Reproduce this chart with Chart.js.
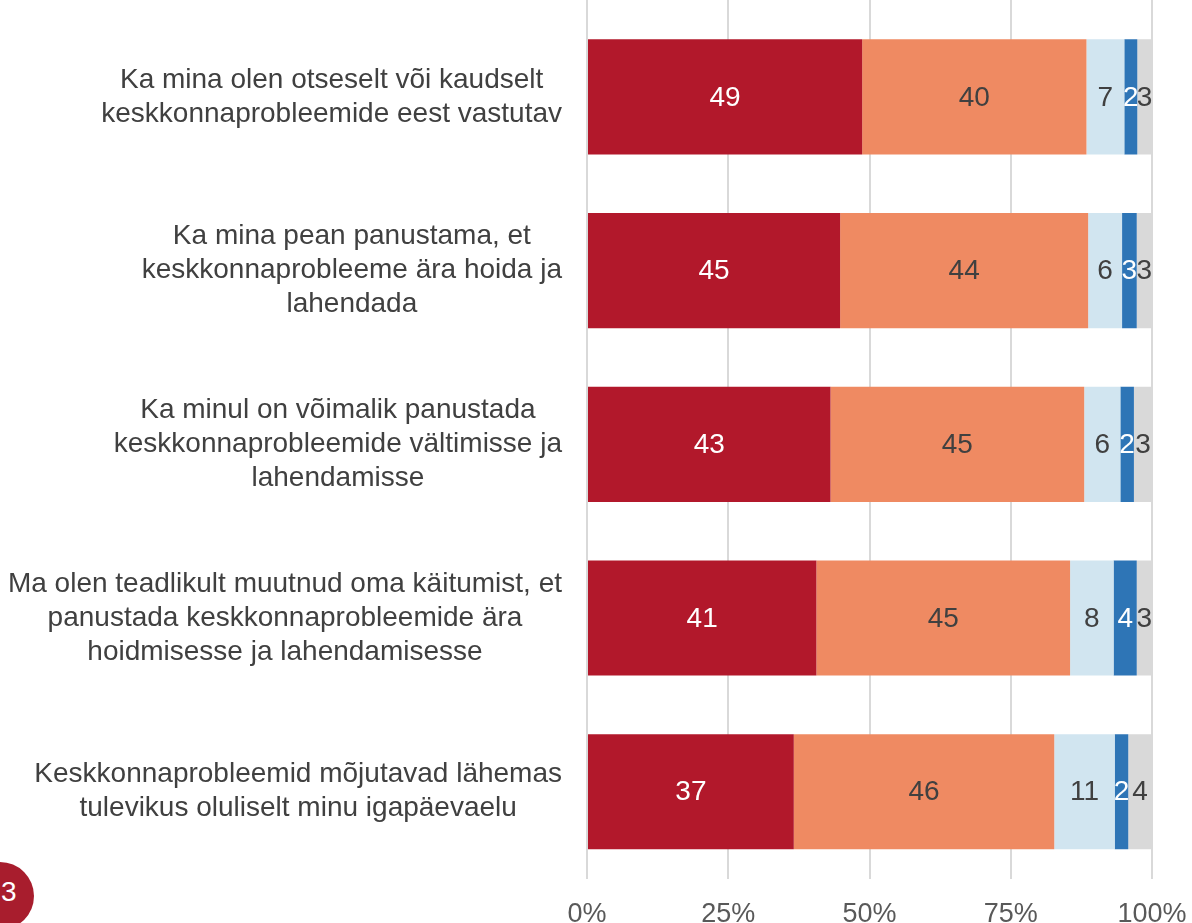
<!DOCTYPE html>
<html lang="et">
<head>
<meta charset="utf-8">
<title>Keskkonnaprobleemid</title>
<script src="https://cdn.jsdelivr.net/npm/chart.js@4/dist/chart.umd.min.js"></script>
<style>
  html, body { margin: 0; padding: 0; background: #fff; overflow: hidden; }
  #wrap { position: relative; width: 1192px; height: 951px; }
  #badge {
    position: absolute; left: -34px; top: 862px; width: 68px; height: 68px;
    border-radius: 50%; background: #a81d2d;
  }
  #badge-num {
    position: absolute; left: 1px; top: 876px; color: #fff;
    font: 28px "Liberation Sans", Arial, sans-serif;
  }
</style>
</head>
<body>
<div id="wrap">
  <canvas id="chart"></canvas>
  <div id="badge"></div>
  <div id="badge-num">3</div>
</div>
<script>
const FONT = '"Liberation Sans", Arial, sans-serif';

const categories = [
  ["Ka mina olen otseselt või kaudselt", "keskkonnaprobleemide eest vastutav"],
  ["Ka mina pean panustama, et", "keskkonnaprobleeme ära hoida ja", "lahendada"],
  ["Ka minul on võimalik panustada", "keskkonnaprobleemide vältimisse ja", "lahendamisse"],
  ["Ma olen teadlikult muutnud oma käitumist, et", "panustada keskkonnaprobleemide ära", "hoidmisesse ja lahendamisesse"],
  ["Keskkonnaprobleemid mõjutavad lähemas", "tulevikus oluliselt minu igapäevaelu"],
];

const seriesNames = ["Täiesti nõus", "Pigem nõus", "Pigem ei ole nõus", "Üldse ei ole nõus", "Ei oska öelda"];
const fullyAgree = [48.7, 44.8, 43.1, 40.6, 36.6];
const ratherAgree = [39.7, 43.9, 44.9, 44.9, 46.1];
const ratherDisagree = [6.7, 6.0, 6.4, 7.7, 10.7];
const fullyDisagree = [2.3, 2.6, 2.4, 4.1, 2.4];
const dontKnow = [2.6, 2.7, 3.2, 2.7, 4.2];

const xTicks = [0, 25, 50, 75, 100];

const colors = ["#b2182b", "#ef8a62", "#d1e5f0", "#2e75b6", "#d9d9d9"];
const labelColors = ["#ffffff", "#404040", "#404040", "#ffffff", "#404040"];

// gridlines run up to the top edge of the picture
const gridToTop = {
  id: "gridToTop",
  beforeDatasetsDraw(chart) {
    const ctx = chart.ctx;
    const x = chart.scales.x;
    ctx.save();
    ctx.strokeStyle = "#d9d9d9";
    ctx.lineWidth = 2;
    xTicks.forEach((v) => {
      const px = Math.round(x.getPixelForValue(v));
      ctx.beginPath();
      ctx.moveTo(px, 0);
      ctx.lineTo(px, chart.chartArea.top);
      ctx.stroke();
    });
    ctx.restore();
  },
};

// labels inside each bar segment
const valueLabels = {
  id: "valueLabels",
  afterDatasetsDraw(chart) {
    const ctx = chart.ctx;
    ctx.save();
    ctx.font = "28px " + FONT;
    ctx.textAlign = "center";
    ctx.textBaseline = "middle";
    chart.data.datasets.forEach((ds, d) => {
      const meta = chart.getDatasetMeta(d);
      meta.data.forEach((el, i) => {
        const p = el.getCenterPoint();
        ctx.fillStyle = labelColors[d];
        ctx.fillText(String(Math.round(ds.data[i])), p.x, p.y + 1);
      });
    });
    ctx.restore();
  },
};

// category labels: each block centered on itself, block right-aligned
const categoryLabels = {
  id: "categoryLabels",
  afterDraw(chart) {
    const ctx = chart.ctx;
    const yScale = chart.scales.y;
    const right = chart.chartArea.left - 25;
    const lineH = 34;
    ctx.save();
    ctx.font = "28px " + FONT;
    ctx.fillStyle = "#404040";
    ctx.textAlign = "center";
    ctx.textBaseline = "middle";
    categories.forEach((lines, i) => {
      const y = yScale.getPixelForValue(i);
      const w = Math.max(...lines.map((l) => ctx.measureText(l).width));
      const cx = right - w / 2;
      lines.forEach((line, j) => {
        ctx.fillText(line, cx, y + (j - (lines.length - 1) / 2) * lineH);
      });
    });
    ctx.restore();
  },
};

const allSeries = [fullyAgree, ratherAgree, ratherDisagree, fullyDisagree, dontKnow];

new Chart(document.getElementById("chart"), {
  type: "bar",
  data: {
    labels: categories.map((c) => c.join(" ")),
    datasets: allSeries.map((values, i) => ({
      label: seriesNames[i],
      data: values,
      backgroundColor: colors[i],
      borderWidth: 0,
      barPercentage: 0.663,
      categoryPercentage: 1,
    })),
  },
  options: {
    indexAxis: "y",
    responsive: true,
    maintainAspectRatio: false,
    animation: false,
    layout: { padding: { left: 587, right: 40, top: 10, bottom: 0 } },
    scales: {
      x: {
        stacked: true,
        min: 0,
        max: 100,
        afterBuildTicks: (axis) => {
          axis.ticks = xTicks.map((v) => ({ value: v }));
        },
        afterFit: (axis) => {
          // no extra room for the end labels, layout padding is enough
          axis.paddingLeft = 0;
          axis.paddingRight = 0;
        },
        grid: { color: "#d9d9d9", lineWidth: 2, drawTicks: false },
        border: { display: false },
        ticks: {
          padding: 20,
          color: "#595959",
          font: { family: FONT, size: 27 },
          callback: (v) => v + "%",
        },
      },
      y: {
        stacked: true,
        display: false,
      },
    },
    plugins: {
      legend: { display: false },
      tooltip: { enabled: false },
    },
  },
  plugins: [gridToTop, valueLabels, categoryLabels],
});
</script>
</body>
</html>
